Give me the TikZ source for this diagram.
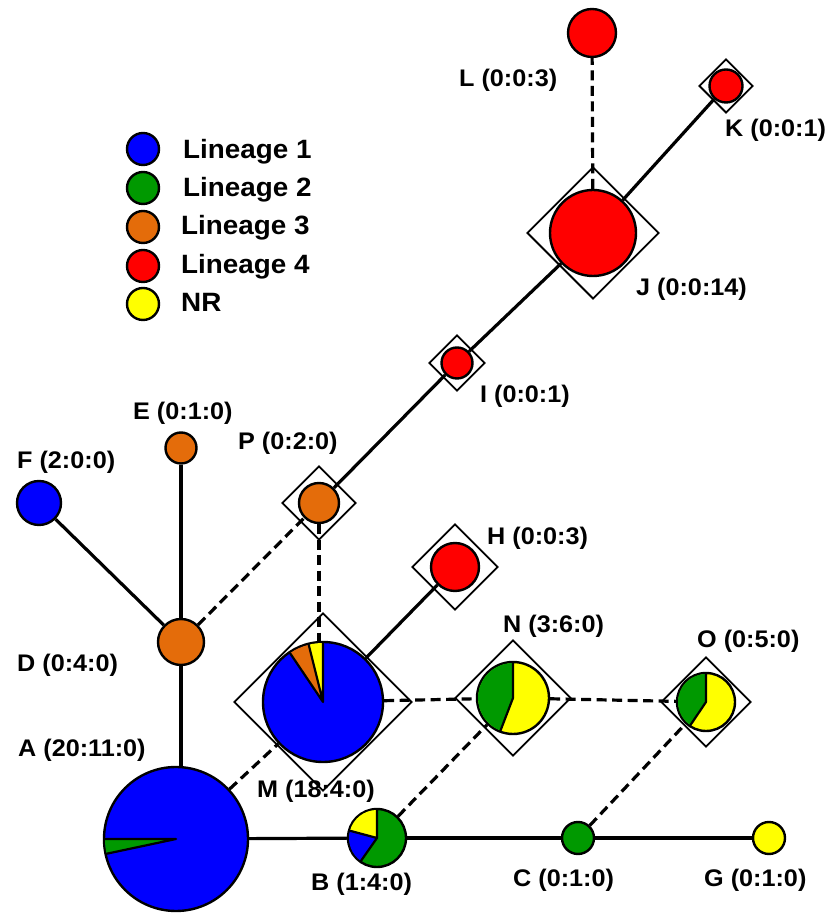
\documentclass[tikz,border=0pt]{standalone}
\usepackage{fontspec}
\setmainfont{Liberation Sans}[FakeStretch=1.05]
\usetikzlibrary{shapes.geometric,backgrounds}
\definecolor{linone}{RGB}{0,0,255}
\definecolor{lintwo}{RGB}{0,153,0}
\definecolor{linthree}{RGB}{228,108,10}
\definecolor{linfour}{RGB}{255,0,0}
\definecolor{nrcol}{RGB}{255,255,0}
\newcommand\pieslice[5]{\fill[#5] (#1.center) -- ++(#3:#2) arc[start angle=#3, end angle=#4, radius=#2] -- cycle;}
\begin{document}
\begin{tikzpicture}[x=1pt,y=1pt,
  hap/.style={circle, draw=black, line width=2.4pt, inner sep=0pt, minimum size=#1},
  frame/.style={diamond, draw=black, line width=1.9pt, inner sep=0pt, minimum size=#1, aspect=1},
  link/.style={line width=3.2pt},
  dlink/.style={line width=3.2pt, dash pattern=on 10pt off 5.5pt},
  lbl/.style={font=\bfseries\fontsize{24}{27}\selectfont, anchor=base west, inner sep=0pt},
  leg/.style={font=\bfseries\fontsize{26.5}{29}\selectfont, anchor=base west, inner sep=0pt},
  sepline/.style={line width=2.2pt, line cap=round}
]
\useasboundingbox (0,0) rectangle (825,913);

% diamonds
\node[frame=178] (Mf) at (323,211) {};
\node[frame=116] (Nf) at (513,215) {};
\node[frame=90]  (Of) at (706,211) {};
\node[frame=74]  (Pf) at (319,410) {};
\node[frame=86]  (Hf) at (455,346) {};
\node[frame=56]  (If) at (457,550) {};
\node[frame=132] (Jf) at (593,680) {};
\node[frame=54]  (Kf) at (726,827) {};

% haplotype circles
\node[hap=144, fill=linone] (A) at (176,74) {};
\node[hap=58, fill=lintwo] (B) at (377,75) {};
\node[hap=32, fill=lintwo] (C) at (578,75) {};
\node[hap=32, fill=nrcol] (G) at (769,75) {};
\node[hap=120, fill=linone] (M) at (323,211) {};
\node[hap=72, fill=nrcol] (N) at (513,215) {};
\node[hap=58, fill=nrcol] (O) at (706,211) {};
\node[hap=46, fill=linthree] (D) at (181,271) {};
\node[hap=31, fill=linthree] (E) at (181,465) {};
\node[hap=44, fill=linone] (F) at (39,410) {};
\node[hap=40, fill=linthree] (P) at (319,410) {};
\node[hap=48, fill=linfour] (H) at (455,346) {};
\node[hap=31, fill=linfour] (I) at (457,550) {};
\node[hap=86, fill=linfour] (J) at (593,680) {};
\node[hap=33, fill=linfour] (K) at (726,827) {};
\node[hap=48, fill=linfour] (L) at (592,880) {};

% pie slices
\pieslice{A}{71}{180}{192}{lintwo}
\draw[sepline] (A.center) -- ++(180:71) (A.center) -- ++(192:71);
\pieslice{M}{59}{90}{104}{nrcol}
\pieslice{M}{59}{104}{124}{linthree}
\draw[sepline] (M.center) -- ++(90:59) (M.center) -- ++(104:59) (M.center) -- ++(124:59);
\pieslice{N}{35}{90}{249}{lintwo}
\draw[sepline] (N.center) -- ++(90:35) (N.center) -- ++(249:35);
\pieslice{O}{28}{90}{236}{lintwo}
\draw[sepline] (O.center) -- ++(90:28) (O.center) -- ++(236:28);
\pieslice{B}{28}{90}{165}{nrcol}
\pieslice{B}{28}{165}{235}{linone}
\draw[sepline] (B.center) -- ++(90:28) (B.center) -- ++(165:28) (B.center) -- ++(235:28);

% connectors
\begin{scope}[on background layer]
\draw[link] (D) -- (D |- A.north);
\draw[link] (D) -- (E);
\draw[link] (D) -- (F);
\draw[dlink] (D) -- (P);
\draw[dlink] (P) -- (P |- M.north);
\draw[link] (P) -- (I);
\draw[link] (I) -- (J);
\draw[link] (J) -- (K);
\draw[dlink] (J) -- (L);
\draw[link] (M) -- (H);
\draw[dlink] (A) -- (M);
\draw[dlink] (M) -- (N);
\draw[dlink] (N) -- (O);
\draw[dlink] (B) -- (N);
\draw[dlink] (C) -- (O);
\draw[link] (A) -- (B);
\draw[link] (B) -- (C);
\draw[link] (C) -- (G);
\end{scope}

% labels
\node[lbl] (tL) at (459,826) {L (0:0:3)};
\node[lbl] (tK) at (725,776) {K (0:0:1)};
\node[lbl] (tJ) at (636,617) {J (0:0:14)};
\node[lbl] (tI) at (480,510) {I (0:0:1)};
\node[lbl] (tH) at (487,368) {H (0:0:3)};
\node[lbl] (tP) at (238,463) {P (0:2:0)};
\node[lbl] (tE) at (133,493) {E (0:1:0)};
\node[lbl] (tF) at (17,444) {F (2:0:0)};
\node[lbl] (tD) at (17,241) {D (0:4:0)};
\node[lbl] (tA) at (18,156) {A (20:11:0)};
\node[lbl] (tM) at (257,115) {M (18:4:0)};
\node[lbl] (tN) at (503,280) {N (3:6:0)};
\node[lbl] (tO) at (697,265) {O (0:5:0)};
\node[lbl] (tB) at (311,22) {B (1:4:0)};
\node[lbl] (tC) at (513,26) {C (0:1:0)};
\node[lbl] (tG) at (704,26) {G (0:1:0)};

% legend
\node[hap=32, fill=linone] (k1) at (143,764) {};
\node[hap=32, fill=lintwo] (k2) at (143,725) {};
\node[hap=32, fill=linthree] (k3) at (143,686) {};
\node[hap=32, fill=linfour] (k4) at (143,647) {};
\node[hap=32, fill=nrcol] (k5) at (143,609) {};
\node[leg] (l1) at (183,754) {Lineage 1};
\node[leg] (l2) at (183,716) {Lineage 2};
\node[leg] (l3) at (181,678) {Lineage 3};
\node[leg] (l4) at (181,639) {Lineage 4};
\node[leg] (l5) at (181,601) {NR};
\end{tikzpicture}
\end{document}
